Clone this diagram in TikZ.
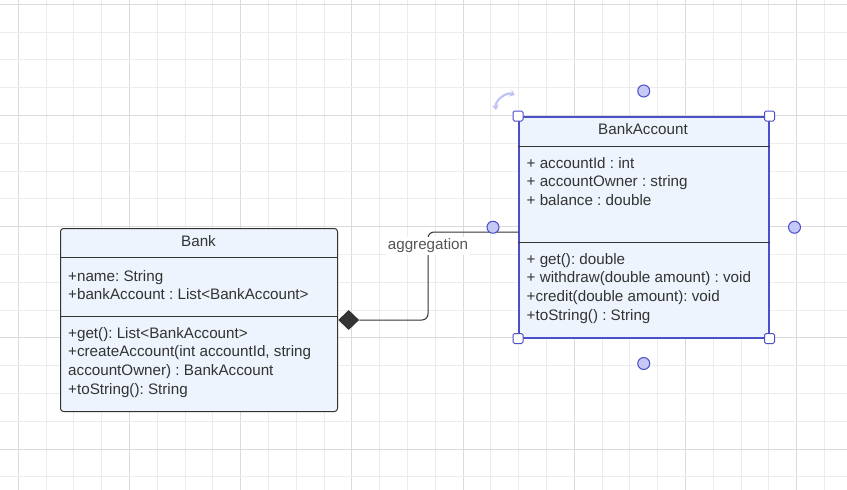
\documentclass[tikz,border=0pt]{standalone}
\usepackage{fontspec}
\setmainfont{Liberation Sans}
\usetikzlibrary{shapes.geometric,arrows.meta,positioning}
\frenchspacing

\definecolor{gridminor}{RGB}{236,236,236}
\definecolor{gridmajor}{RGB}{218,218,218}
\definecolor{classfill}{RGB}{237,244,253}
\definecolor{classline}{RGB}{51,51,51}
\definecolor{selblue}{RGB}{76,80,200}
\definecolor{handlefill}{RGB}{198,200,248}
\definecolor{rotcolor}{RGB}{192,195,245}
\definecolor{labelgrey}{RGB}{85,85,85}

\tikzset{
  classbox/.style={draw=classline, fill=classfill, line width=1pt, rounded corners=3pt, inner sep=0pt, anchor=north west},
  selbox/.style={draw=selblue, fill=classfill, line width=1.5pt, inner sep=0pt, anchor=north west},
  classtext/.style={text=classline, font=\fontsize{15.2}{18.7}\selectfont, inner sep=0pt, align=left},
  membertext/.style={classtext, anchor=north west},
  handle/.style={draw=selblue, fill=white, line width=1pt, rounded corners=1.5pt, minimum size=10pt, inner sep=0pt},
  anchorpt/.style={circle, draw=selblue, fill=handlefill, line width=1pt, minimum size=12pt, inner sep=0pt},
  aggdiamond/.style={diamond, fill=classline, minimum width=21pt, minimum height=20pt, inner sep=0pt},
  connector/.style={draw=classline, line width=1pt, rounded corners=6pt},
  edgelabel/.style={text=labelgrey, fill=white, font=\fontsize{15.2}{18.7}\selectfont, inner sep=1.5pt}
}

\begin{document}
\begin{tikzpicture}[x=1pt,y=-1pt]
  \useasboundingbox (0,0) rectangle (847,490);
  \fill[white] (0,0) rectangle (847,490);

  % background grid
  \foreach \i in {0,...,29}{
    \pgfmathsetmacro{\gx}{18.3+27.8*\i}
    \pgfmathtruncatemacro{\maj}{mod(\i,4)}
    \ifnum\maj=0
      \draw[gridmajor, line width=1pt] (\gx,0) -- (\gx,490);
    \else
      \draw[gridminor, line width=1pt] (\gx,0) -- (\gx,490);
    \fi
  }
  \foreach \j in {0,...,17}{
    \pgfmathsetmacro{\gy}{4.3+27.8*\j}
    \pgfmathtruncatemacro{\maj}{mod(\j,4)}
    \ifnum\maj=0
      \draw[gridmajor, line width=1pt] (0,\gy) -- (847,\gy);
    \else
      \draw[gridminor, line width=1pt] (0,\gy) -- (847,\gy);
    \fi
  }

  % Bank class
  \node[classbox, minimum width=277pt, minimum height=183pt] (bank) at (60,228) {};
  \draw[classline, line width=1pt] ([yshift=-29pt]bank.north west) -- ([yshift=-29pt]bank.north east);
  \draw[classline, line width=1pt] ([yshift=-88pt]bank.north west) -- ([yshift=-88pt]bank.north east);
  \node[classtext] (banktitle) at (198.5,241) {Bank};
  \node[membertext] (bankattrs) at (68,270) {+name: String\\+bankAccount : List<BankAccount>};
  \node[membertext] (bankops) at (68,327) {+get(): List<BankAccount>\\+createAccount(int accountId, string\\accountOwner) : BankAccount\\+toString(): String};

  % BankAccount class (selected)
  \node[selbox, minimum width=250pt, minimum height=221pt] (acct) at (518,116) {};
  \draw[classline, line width=1pt] ([yshift=-30pt]acct.north west) -- ([yshift=-30pt]acct.north east);
  \draw[classline, line width=1pt] ([yshift=-126pt]acct.north west) -- ([yshift=-126pt]acct.north east);
  \node[classtext] (accttitle) at (643,129) {BankAccount};
  \node[membertext] (acctattrs) at (526.5,157) {+ accountId : int\\+ accountOwner : string\\+ balance : double};
  \node[membertext] (acctops) at (526.5,253) {+ get(): double\\+ withdraw(double amount) : void\\+credit(double amount): void\\+toString() : String};

  % aggregation
  \node[aggdiamond, anchor=west] (agg) at (bank.east) {};
  \coordinate (aggbend) at (428,232);
  \draw[connector] (agg.east) -| (aggbend) -- (aggbend -| acct.west);
  \node[edgelabel] (agglabel) at (428,246) {aggregation};

  % selection handles
  \foreach \c in {north west,north east,south west,south east}
    \node[handle] at (acct.\c) {};
  \node[anchorpt] (ptn) at ([yshift=25pt]acct.north) {};
  \node[anchorpt] (pts) at ([yshift=-25pt]acct.south) {};
  \node[anchorpt] (ptw) at ([xshift=-25pt]acct.west) {};
  \node[anchorpt] (pte) at ([xshift=25pt]acct.east) {};
  \draw[rotcolor, line width=2.2pt, {Stealth[length=5pt,width=7pt]}-{Stealth[length=5pt,width=7pt]}] (496,110) to[bend left=60] (515,95);
\end{tikzpicture}
\end{document}
